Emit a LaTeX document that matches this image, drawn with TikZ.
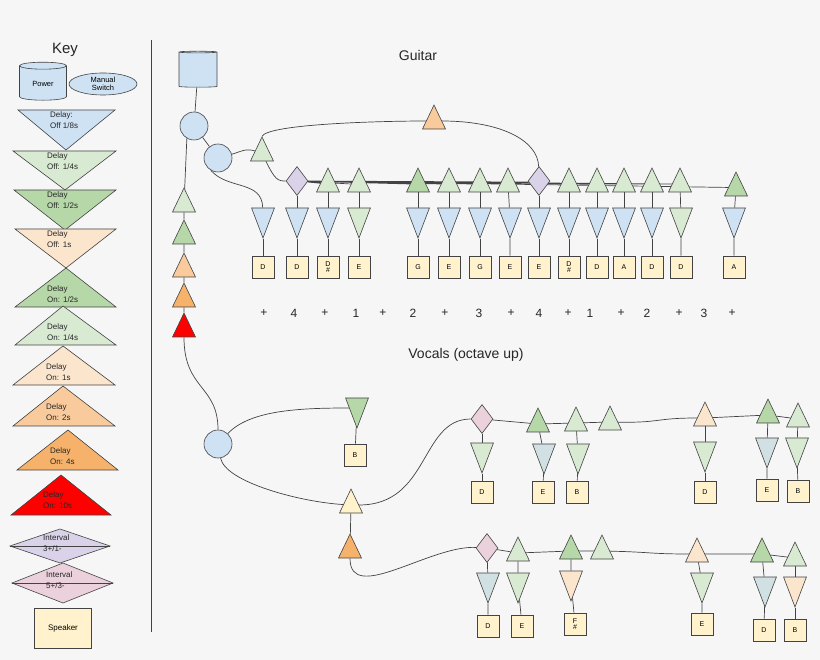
\documentclass[tikz,border=0pt]{standalone}
\usepackage{fontspec}
\setmainfont{Liberation Sans}
\usetikzlibrary{shapes.geometric}
\definecolor{cblue}{HTML}{CFE2F3}
\definecolor{clg}{HTML}{D9EAD3}
\definecolor{cg}{HTML}{B6D7A8}
\definecolor{clo}{HTML}{FCE5CD}
\definecolor{cmo}{HTML}{F9CB9C}
\definecolor{co}{HTML}{F6B26B}
\definecolor{cred}{HTML}{FF0000}
\definecolor{cpur}{HTML}{D9D2E9}
\definecolor{cpink}{HTML}{EAD1DC}
\definecolor{cspk}{HTML}{FFF2CC}
\definecolor{cgb}{HTML}{D0E0E3}
\definecolor{cbg}{HTML}{F6F6F6}
\definecolor{cstroke}{HTML}{434343}
\pgfdeclarelayer{bg}\pgfdeclarelayer{wires}\pgfsetlayers{bg,wires,main}
\begin{document}
\begin{tikzpicture}[x=1pt,y=-1pt,
 tup/.style={regular polygon, regular polygon sides=3, minimum size=32pt, xscale=0.83, inner sep=0pt, draw=cstroke, line width=0.6pt, fill=#1},
 tdn/.style={regular polygon, regular polygon sides=3, regular polygon rotate=180, minimum size=40pt, xscale=0.66, inner sep=0pt, draw=cstroke, line width=0.6pt, fill=#1},
 dia/.style={diamond, minimum width=22pt, minimum height=29pt, inner sep=0pt, draw=cstroke, line width=0.6pt, fill=#1},
 spk/.style={draw=cstroke, line width=0.6pt, fill=cspk, minimum width=22pt, minimum height=22pt, inner sep=0pt, align=center, font=\fontsize{7}{6.5}\selectfont},
 sw/.style={circle, minimum size=28pt, inner sep=0pt, draw=cstroke, line width=0.6pt, fill=cblue},
 wire/.style={draw=cstroke, line width=0.7pt},
 kshape/.style={draw=cstroke, line width=0.6pt, fill=#1},
 ktxt/.style={anchor=north west, align=left, inner sep=0pt, font=\fontsize{8}{10.5}\selectfont, text=black!85},
 title/.style={font=\fontsize{14}{16}\selectfont, text=black!85},
 cnt/.style={font=\fontsize{12}{14}\selectfont, text=black!85}
]
\begin{pgfonlayer}{bg}
\fill[cbg] (0,0) rectangle (820,660);
\end{pgfonlayer}
\useasboundingbox (0,0) rectangle (820,660);

% ---------- Key ----------
\node[title, font=\fontsize{15}{16}\selectfont] (keyt) at (65,50) {Key};
\node[cylinder, shape border rotate=90, aspect=0.25, minimum width=47pt, minimum height=38pt, draw=cstroke, line width=0.6pt, fill=cblue, font=\fontsize{7.5}{9}\selectfont] (kpow) at (43,84) {Power};
\node[ellipse, minimum width=68pt, minimum height=22pt, inner sep=0pt, draw=cstroke, line width=0.6pt, fill=cblue, align=center, font=\fontsize{7.5}{8.5}\selectfont] (ksw) at (103,84) {Manual\\Switch};
\draw[kshape=cblue] (18,110) -- (115,110) -- (66,150) -- cycle;
\node[ktxt] (k1) at (50,112) {Delay:\\Off 1/8s};
\draw[kshape=clg] (13,151) -- (116,151) -- (65,190) -- cycle;
\node[ktxt] (k2) at (47,153) {Delay\\Off: 1/4s};
\draw[kshape=cg] (14,190) -- (116,190) -- (65,230) -- cycle;
\node[ktxt] (k3) at (47,192) {Delay\\Off: 1/2s};
\draw[kshape=clo] (15,229) -- (116,229) -- (66,268) -- cycle;
\node[ktxt] (k4) at (47,231) {Delay\\Off: 1s};
\draw[kshape=cg] (15,307) -- (116,307) -- (66,268) -- cycle;
\node[ktxt] (k5) at (47,286) {Delay\\On: 1/2s};
\draw[kshape=clg] (15,345) -- (116,345) -- (63,306) -- cycle;
\node[ktxt] (k6) at (47,324) {Delay\\On: 1/4s};
\draw[kshape=clo] (13,385) -- (115,385) -- (63,346) -- cycle;
\node[ktxt] (k7) at (46,364) {Delay\\On: 1s};
\draw[kshape=cmo] (13,426) -- (115,426) -- (63,386) -- cycle;
\node[ktxt] (k8) at (46,404) {Delay\\On: 2s};
\draw[kshape=co] (17,470) -- (118,470) -- (68,430) -- cycle;
\node[ktxt] (k9) at (50,448) {Delay\\On: 4s};
\draw[kshape=cred] (11,515) -- (111,515) -- (61,475) -- cycle;
\node[ktxt] (k10) at (43,492) {Delay\\On: 10s};
\draw[kshape=cpur] (10,546) -- (60,529) -- (110,546) -- (60,563) -- cycle;
\draw[draw=cstroke, line width=0.6pt] (10,546) -- (110,546);
\node[ktxt] (k11) at (43,535) {Interval\\3+/1-};
\draw[kshape=cpink] (12,583) -- (63,563) -- (113,583) -- (63,603) -- cycle;
\draw[draw=cstroke, line width=0.6pt] (12,583) -- (113,583);
\node[ktxt] (k12) at (46,572) {Interval\\5+/3-};
\node[draw=cstroke, line width=0.6pt, fill=cspk, minimum width=57pt, minimum height=40pt, font=\fontsize{8}{10}\selectfont] (kspk) at (63,628) {Speaker};
\draw[draw=cstroke, line width=0.7pt] (151,40) -- (151,632);

% ---------- Power chain ----------
\node[cylinder, shape border rotate=90, aspect=0.25, minimum width=38pt, minimum height=36pt, draw=cstroke, line width=0.6pt, fill=cblue] (cyl) at (198,70) {};
\node[sw] (c1) at (194,126) {};
\node[sw] (c2) at (218,158) {};
\node[sw] (c3) at (218,444) {};
\node[tup=clg] (v1) at (184,204) {};
\node[tup=cg] (v2) at (184,236) {};
\node[tup=cmo] (v3) at (184,269) {};
\node[tup=co] (v4) at (184,299) {};
\node[tup=cred] (v5) at (184,329) {};

% ---------- Guitar ----------
\node[title] (gt) at (418,55) {Guitar};
\node[tup=clg] (t0) at (262,153) {};
\node[tup=cmo] (gor) at (434,121) {};
\node[dia=cpur] (g2) at (297,181) {};
\node[dia=cpur] (g9) at (539,181) {};
\foreach \i/\x/\c in {3/328/clg,4/359/clg,5/418/cg,6/449/clg,7/480/clg,8/508/clg,10/569/clg,11/597/clg,12/624/clg,13/652/clg,14/680/clg}
  {\node[tup=\c] (g\i) at (\x,184) {};}
\node[tup=cg] (g15) at (736,188) {};
\foreach \i/\x/\c/\l in {1/263/cblue/D,2/297/cblue/D,3/328/cblue/{D\\\#},4/359/clg/E,5/418/cblue/G,6/449/cblue/E,7/480/cblue/G,8/510/cblue/E,9/539/cblue/E,10/569/cblue/{D\\\#},11/597/cblue/D,12/624/cblue/A,13/652/cblue/D,14/681/clg/D,15/734/cblue/A}
  {\node[tdn=\c] (d\i) at (\x,218) {};
   \node[spk] (b\i) at (\x,267) {\l};}
\foreach \x/\t [count=\i] in {264/+,294/4,325/+,356/1,383/+,413/2,445/+,479/3,511/+,539/4,568/+,590/1,621/+,647/2,679/+,704/3,732/+}
  {\node[cnt] (n\i) at (\x,313) {\t};}

% ---------- Vocals ----------
\node[title] (vt) at (466,355) {Vocals (octave up)};
\node[tdn=cg] (vb) at (357,408) {};
\node[spk] (vbb) at (355,455) {B};
\node[tup=cspk] (vy) at (351,505) {};
\node[tup=co] (vo) at (350,550) {};
% row 1
\node[dia=cpink] (p1) at (482,419) {};
\node[tup=cg] (r1a) at (538,424) {};
\node[tup=clg] (r1b) at (576,423) {};
\node[tup=clg] (r1c) at (610,422) {};
\node[tup=clo] (r1d) at (705,418) {};
\node[tup=cg] (r1e) at (768,415) {};
\node[tup=clg] (r1f) at (798,419) {};
\node[tdn=clg] (q1) at (482,453) {};
\node[tdn=cgb] (q2) at (544,454) {};
\node[tdn=clg] (q3) at (578,454) {};
\node[tdn=clg] (q4) at (705,452) {};
\node[tdn=cgb] (q5) at (767,448) {};
\node[tdn=clg] (q6) at (797,448) {};
\node[spk] (s1) at (482,492) {D};
\node[spk] (s2) at (543,492) {E};
\node[spk] (s3) at (577,492) {B};
\node[spk] (s4) at (705,492) {D};
\node[spk] (s5) at (767,490) {E};
\node[spk] (s6) at (798,491) {B};
% row 2
\node[dia=cpink] (p2) at (487,548) {};
\node[tup=clg] (r2a) at (518,553) {};
\node[tup=cg] (r2b) at (571,551) {};
\node[tup=clg] (r2c) at (602,551) {};
\node[tup=clo] (r2d) at (697,554) {};
\node[tup=cg] (r2e) at (762,554) {};
\node[tup=clg] (r2f) at (795,558) {};
\node[tdn=cgb] (u1) at (488,583) {};
\node[tdn=clg] (u2) at (518,583) {};
\node[tdn=clo] (u3) at (571,581) {};
\node[tdn=clg] (u4) at (702,583) {};
\node[tdn=cgb] (u5) at (765,587) {};
\node[tdn=clo] (u6) at (795,587) {};
\node[spk] (w1) at (488,626) {D};
\node[spk] (w2) at (522,626) {E};
\node[spk] (w3) at (575,624) {F\\\#};
\node[spk] (w4) at (702,624) {E};
\node[spk] (w5) at (764,630) {D};
\node[spk] (w6) at (795,630) {B};

% ---------- Wires ----------
\begin{pgfonlayer}{wires}
\draw[wire] (cyl) -- (c1);
\draw[wire] (c1) -- (c2);
\draw[wire] (c1.240) -- (v1) -- (v2) -- (v3) -- (v4) -- (v5);
\draw[wire] (v5) .. controls (184,390) and (218,385) .. (c3);
\draw[wire] (c2) .. controls (240,152) and (245,148) .. (t0);
\draw[wire] (c2.240) .. controls (228,190) and (262,180) .. (d1);
\draw[wire] (t0) .. controls (275,180) and (278,181) .. (g2);
\draw[wire] (t0.north) .. controls (268,124) and (380,121) .. (gor);
\draw[wire] (gor) .. controls (500,121) and (538,140) .. (g9);
\draw[wire] (g2) \foreach \i in {3,...,15}{ -- (g\i)};
\draw[wire] (d1) -- (b1);
\foreach \i in {2,...,15}{\draw[wire] (g\i) -- (d\i) -- (b\i);}
\draw[wire] (c3) .. controls (250,410) and (300,408) .. (vb);
\draw[wire] (vb) -- (vbb);
\draw[wire] (c3) .. controls (225,482) and (300,502) .. (vy);
\draw[wire] (vy) -- (vo);
\draw[wire] (vy) .. controls (430,505) and (420,419) .. (p1);
\draw[wire] (vo) .. controls (350,605) and (430,545) .. (p2);
\draw[wire] (p1) -- (r1a) -- (r1b) -- (r1c) .. controls (660,423) and (655,418) .. (r1d) -- (r1e) -- (r1f);
\draw[wire] (p2) -- (r2a) -- (r2b) -- (r2c) .. controls (650,552) and (650,554) .. (r2d) -- (r2e) -- (r2f);
\draw[wire] (p1) -- (q1) -- (s1);
\draw[wire] (r1a) -- (q2) -- (s2);
\draw[wire] (r1b) -- (q3) -- (s3);
\draw[wire] (r1d) -- (q4) -- (s4);
\draw[wire] (r1e) -- (q5) -- (s5);
\draw[wire] (r1f) -- (q6) -- (s6);
\draw[wire] (p2) -- (u1) -- (w1);
\draw[wire] (r2a) -- (u2) -- (w2);
\draw[wire] (r2b) -- (u3) -- (w3);
\draw[wire] (r2d) -- (u4) -- (w4);
\draw[wire] (r2e) -- (u5) -- (w5);
\draw[wire] (r2f) -- (u6) -- (w6);
\end{pgfonlayer}
\end{tikzpicture}
\end{document}
